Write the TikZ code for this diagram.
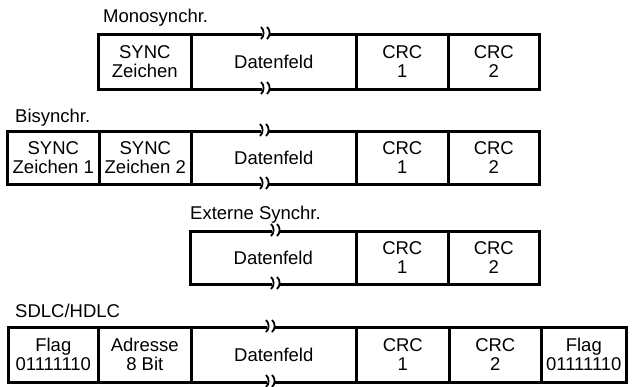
\documentclass[tikz,border=0pt]{standalone}
\usepackage{fontspec}
\setmainfont{Liberation Sans}
\begin{document}
\newcommand\fsz{\fontsize{18.5pt}{19pt}\selectfont}
\newcommand\brkmark[2]{%
  \fill[white] (#1-4,#2-3.5) rectangle (#1+4,#2+3.5);
  \draw[brkline] (#1-5,#2-6) .. controls (#1-1.5,#2-3) and (#1-1.5,#2+3) .. (#1-5,#2+6);
  \draw[brkline] (#1+1,#2-6) .. controls (#1+4.5,#2-3) and (#1+4.5,#2+3) .. (#1+1,#2+6);
}
\begin{tikzpicture}[x=1pt,y=-1pt,
  cellbox/.style={draw, line width=2.6pt, inner sep=0pt, align=center, font=\fsz,
                  anchor=north west, minimum height=#1},
  cellbox/.default=55pt,
  titletext/.style={font=\fsz, anchor=base west, inner sep=0pt},
  brkline/.style={line width=1.8pt}]
\useasboundingbox (0,0) rectangle (634,386);
% Row 1: Monosynchr.
\node[titletext] (t1) at (103,22) {Monosynchr.};
\node[cellbox, minimum width=93pt] (m1) at (97,33) {SYNC\\Zeichen};
\node[cellbox, minimum width=165pt] (m2) at (190,33) {Datenfeld};
\node[cellbox, minimum width=92pt] (m3) at (355,33) {CRC\\1};
\node[cellbox, minimum width=91pt] (m4) at (447,33) {CRC\\2};
\brkmark{266}{33}
\brkmark{266}{88}
% Row 2: Bisynchr.
\node[titletext] (t2) at (15,122) {Bisynchr.};
\node[cellbox=53pt, minimum width=92pt] (b1) at (6,130) {SYNC\\Zeichen 1};
\node[cellbox=53pt, minimum width=92pt] (b2) at (98,130) {SYNC\\Zeichen 2};
\node[cellbox=53pt, minimum width=165pt] (b3) at (190,130) {Datenfeld};
\node[cellbox=53pt, minimum width=92pt] (b4) at (355,130) {CRC\\1};
\node[cellbox=53pt, minimum width=91pt] (b5) at (447,130) {CRC\\2};
\brkmark{265}{130}
\brkmark{265}{183}
% Row 3: Externe Synchr.
\node[titletext] (t3) at (190,219) {Externe Synchr.};
\node[cellbox=53pt, minimum width=166pt] (e1) at (189,230) {Datenfeld};
\node[cellbox=53pt, minimum width=92pt] (e2) at (355,230) {CRC\\1};
\node[cellbox=53pt, minimum width=91pt] (e3) at (447,230) {CRC\\2};
\brkmark{276}{230}
\brkmark{276}{283}
% Row 4: SDLC/HDLC
\node[titletext] (t4) at (15,317) {SDLC/HDLC};
\node[cellbox, minimum width=90pt] (s1) at (7,326) {Flag\\01111110};
\node[cellbox, minimum width=93pt] (s2) at (97,326) {Adresse\\8 Bit};
\node[cellbox, minimum width=165pt] (s3) at (190,326) {Datenfeld};
\node[cellbox, minimum width=93pt] (s4) at (355,326) {CRC\\1};
\node[cellbox, minimum width=92pt] (s5) at (448,326) {CRC\\2};
\node[cellbox, minimum width=85pt] (s6) at (540,326) {Flag\\01111110};
\brkmark{271}{326}
\brkmark{271}{381}
\end{tikzpicture}
\end{document}
